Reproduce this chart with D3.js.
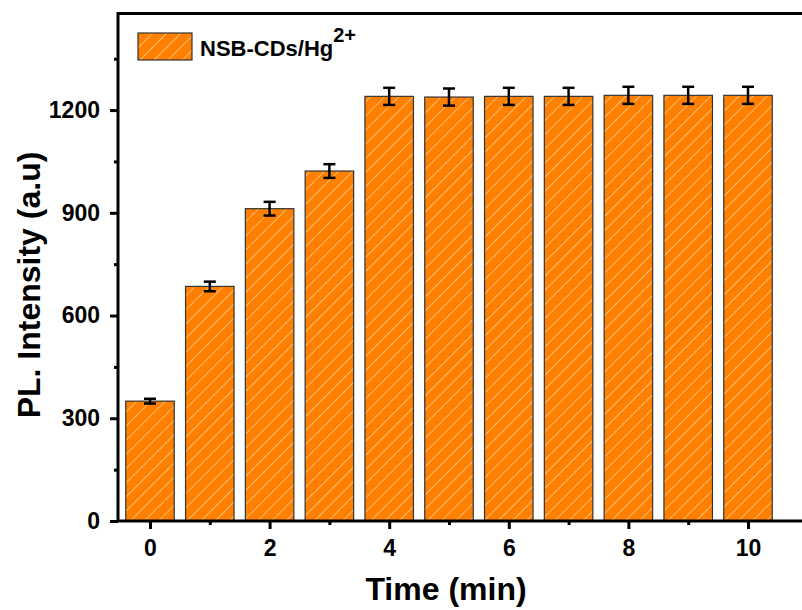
<!DOCTYPE html>
<html>
<head>
<meta charset="utf-8">
<script src="https://cdn.jsdelivr.net/npm/d3@7"></script>
<style>
  html, body { margin: 0; padding: 0; background: #fff; }
  svg { display: block; font-family: "Liberation Sans", Arial, sans-serif; font-weight: bold; }
</style>
</head>
<body>
<div id="chart"></div>
<script>
// ─── Data ────────────────────────────────────────────────────
const times = [0, 1, 2, 3, 4, 5, 6, 7, 8, 9, 10];
const intensity = [350, 685, 912, 1022, 1240, 1238, 1240, 1240, 1243, 1243, 1243];
const errors = [7, 14, 20, 20, 25, 25, 25, 25, 25, 25, 25];
const xTickLabels = [0, 2, 4, 6, 8, 10];
const yTickLabels = [0, 300, 600, 900, 1200];
const seriesName = "NSB-CDs/Hg";

// ─── Dimensions ──────────────────────────────────────────────
const W = 802, H = 610;
const m = { top: 13.5, left: 118, bottom: 521 };

const svg = d3.select("#chart").append("svg")
    .attr("width", W).attr("height", H);

const defs = svg.append("defs");
const pat = defs.append("pattern")
    .attr("id", "hatch")
    .attr("patternUnits", "userSpaceOnUse")
    .attr("width", 10).attr("height", 10)
    .attr("patternTransform", "rotate(45)");
pat.append("rect").attr("width", 10).attr("height", 10).attr("fill", "#ff8000");
pat.append("line")
    .attr("x1", 0).attr("y1", 0).attr("x2", 0).attr("y2", 10)
    .attr("stroke", "#ffe2bf").attr("stroke-width", 1.2);

// ─── Scales ─────────────────────────────────────────────────
const x = d3.scaleLinear().domain([-0.535, 11.5]).range([m.left, m.left + 12.035 * 59.8]);
const y = d3.scaleLinear().domain([0, 1482]).range([m.bottom, m.top]);
const barW = 48.5;

// ─── Bars ───────────────────────────────────────────────────
svg.append("g").selectAll("rect")
    .data(times)
    .join("rect")
    .attr("x", (d) => x(d) - barW / 2)
    .attr("y", (d, i) => y(intensity[i]))
    .attr("width", barW)
    .attr("height", (d, i) => y(0) - y(intensity[i]))
    .attr("fill", "url(#hatch)")
    .attr("stroke", "#333")
    .attr("stroke-width", 1.2);

// ─── Error bars ─────────────────────────────────────────────
const eb = svg.append("g").attr("stroke", "#000").attr("stroke-width", 2.5);
times.forEach((t, i) => {
    const cx = x(t), y1 = y(intensity[i] + errors[i]), y2 = y(intensity[i] - errors[i]);
    eb.append("line").attr("x1", cx).attr("x2", cx).attr("y1", y1).attr("y2", y2);
    eb.append("line").attr("x1", cx - 6).attr("x2", cx + 6).attr("y1", y1).attr("y2", y1);
    eb.append("line").attr("x1", cx - 6).attr("x2", cx + 6).attr("y1", y2).attr("y2", y2);
});

// ─── Axes ────────────────────────────────────────────────────
const xAxis = svg.append("g")
    .attr("transform", `translate(0,${m.bottom})`)
    .call(d3.axisBottom(x).tickValues(xTickLabels).tickSize(8).tickPadding(11).tickFormat(d3.format("d")));
const xMinor = svg.append("g")
    .attr("transform", `translate(0,${m.bottom})`)
    .call(d3.axisBottom(x).tickValues(times.filter(t => t % 2)).tickSize(4).tickFormat(""));

const yAxis = svg.append("g")
    .attr("transform", `translate(${m.left},0)`)
    .call(d3.axisLeft(y).tickValues(yTickLabels).tickSize(8).tickPadding(10).tickFormat(d3.format("d")));
const yMinor = svg.append("g")
    .attr("transform", `translate(${m.left},0)`)
    .call(d3.axisLeft(y).tickValues([150, 450, 750, 1050, 1350]).tickSize(4).tickFormat(""));

[xAxis, xMinor, yAxis, yMinor].forEach(a => {
    a.attr("font-size", null).attr("font-family", null);
    a.select(".domain").remove();
    a.selectAll(".tick line").attr("stroke", "#000").attr("stroke-width", 3);
    a.selectAll(".tick text")
        .attr("fill", "#000")
        .style("font-size", "23px")
        .style("font-weight", "bold");
});

// frame (left, bottom, top; the right side lies past the picture)
svg.append("path")
    .attr("d", `M${W + 10},${m.top}H${m.left}V${m.bottom}H${W + 10}`)
    .attr("fill", "none")
    .attr("stroke", "#000")
    .attr("stroke-width", 3);

// ─── Axis titles ─────────────────────────────────────────────
svg.append("text")
    .attr("x", 446).attr("y", 600)
    .attr("text-anchor", "middle")
    .style("font-size", "32px")
    .text("Time (min)");

svg.append("text")
    .attr("transform", "rotate(-90)")
    .attr("x", -285).attr("y", 40)
    .attr("text-anchor", "middle")
    .style("font-size", "32px")
    .text("PL. Intensity (a.u)");

// ─── Legend ──────────────────────────────────────────────────
const lg = svg.append("g").attr("transform", "translate(138,33)");
lg.append("rect")
    .attr("width", 54).attr("height", 27)
    .attr("fill", "url(#hatch)")
    .attr("stroke", "#333").attr("stroke-width", 1.2);
const lt = lg.append("text")
    .attr("x", 62).attr("y", 23)
    .style("font-size", "22px");
lt.append("tspan").text(seriesName);
lt.append("tspan").attr("dy", -14).style("font-size", "20px").text("2+");
</script>
</body>
</html>
